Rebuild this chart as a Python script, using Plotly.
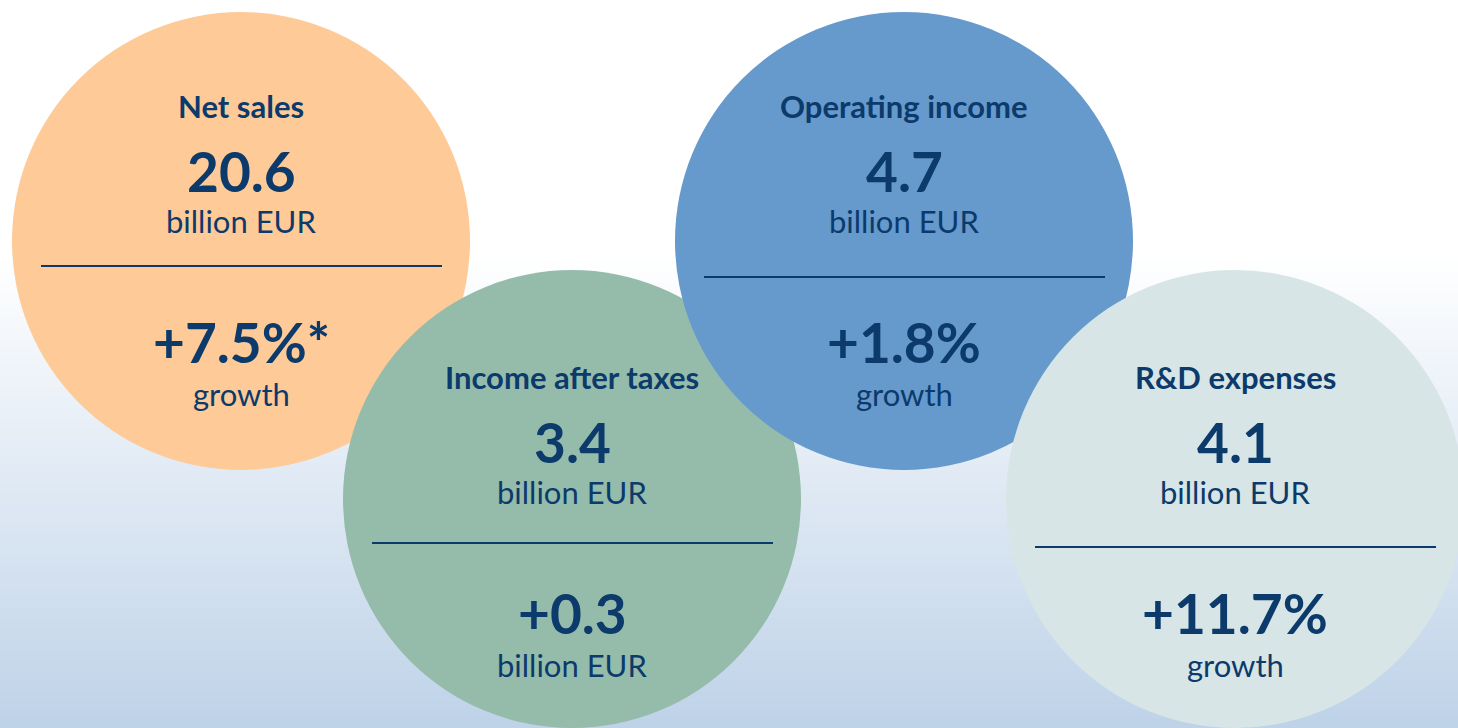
import numpy as np
import plotly.graph_objects as go

W, H = 1458, 728

# ---- data ----
titles = ["Net sales", "Income after taxes", "Operating income", "R&D expenses"]
values = ["20.6", "3.4", "4.7", "4.1"]
value_units = ["billion EUR", "billion EUR", "billion EUR", "billion EUR"]
changes = ["+7.5%*", "+0.3", "+1.8%", "+11.7%"]
change_units = ["growth", "billion EUR", "growth", "growth"]

# ---- layout / style ----
centers_x = [241, 572, 904, 1235]
centers_y = [241, 499, 241, 499]
radius = 229
fills = ["#FECA98", "#95BCAA", "#6699CC", "#D7E5E6"]
divider_y = [266, 543, 277, 547]
text_shift = [0, 13, 0, 13]
row_dy = [-135, -70, -20, 101, 153]
row_size = [31, 55, 31, 55, 31]
row_bold = [True, True, False, True, False]
navy = "#0B3A6B"
font_family = "Lato, 'Open Sans', sans-serif"

fig = go.Figure()

# background gradient (white top, light blue bottom)
ys = np.arange(0, H + 1, 2)
zcol = np.clip((ys - 255) / (H - 255), 0, 1)
z = np.repeat(zcol[:, None], 2, axis=1)
fig.add_trace(go.Heatmap(
    x=[0, W], y=ys, z=z,
    colorscale=[[0, "#FFFFFF"], [1, "#BED2E8"]],
    showscale=False, hoverinfo="skip", zsmooth="best",
))

shapes = []
annotations = []
for i in range(len(titles)):
    cx, cy = centers_x[i], centers_y[i]
    shapes.append(dict(type="circle", xref="x", yref="y",
                       x0=cx - radius, x1=cx + radius,
                       y0=cy - radius, y1=cy + radius,
                       fillcolor=fills[i], line=dict(width=0), layer="above"))
    shapes.append(dict(type="line", xref="x", yref="y",
                       x0=cx - 200, x1=cx + 201,
                       y0=divider_y[i], y1=divider_y[i],
                       line=dict(color=navy, width=2), layer="above"))
    texts = [titles[i], values[i], value_units[i], changes[i], change_units[i]]
    for txt, dy, size, bold in zip(texts, row_dy, row_size, row_bold):
        annotations.append(dict(
            x=cx, y=cy + dy + text_shift[i],
            xref="x", yref="y", showarrow=False,
            text=f"<b>{txt}</b>" if bold else txt,
            font=dict(family=font_family, size=size, color=navy),
            xanchor="center", yanchor="middle",
        ))

fig.update_layout(
    width=W, height=H,
    margin=dict(l=0, r=0, t=0, b=0),
    paper_bgcolor="white", plot_bgcolor="white",
    xaxis=dict(range=[0, W], visible=False, fixedrange=True),
    yaxis=dict(range=[H, 0], visible=False, fixedrange=True),
    shapes=shapes, annotations=annotations,
    showlegend=False,
)

fig.write_html(
    "out.html",
    config={"displayModeBar": False},
    post_script="document.body.style.margin='0';document.body.style.overflow='hidden';",
)
